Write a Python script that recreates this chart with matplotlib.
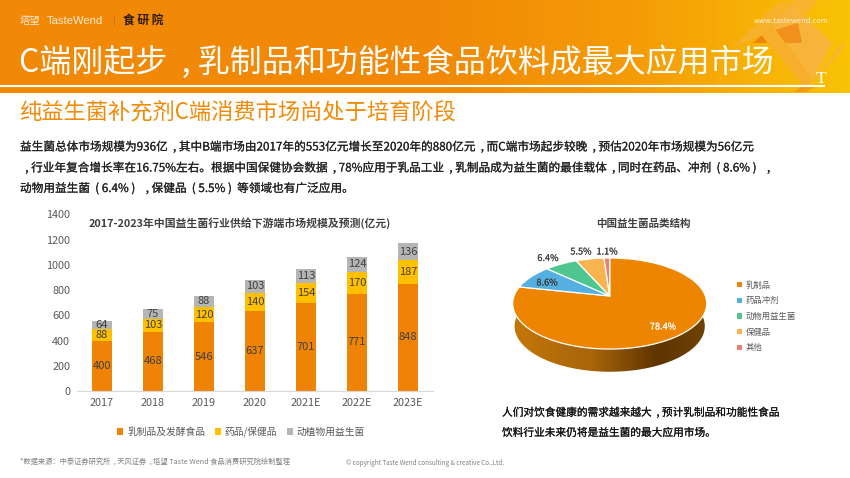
import numpy as np
import matplotlib
matplotlib.use("Agg")
import matplotlib.pyplot as plt
import matplotlib.patheffects as pe
from matplotlib.colors import LinearSegmentedColormap
from matplotlib.patches import Patch, PathPatch, Polygon
from matplotlib.path import Path

plt.rcParams['font.family'] = ['Noto Sans CJK SC', 'DejaVu Sans']

# bar chart data
years = ['2017', '2018', '2019', '2020', '2021E', '2022E', '2023E']
dairy = [400, 468, 546, 637, 701, 771, 848]
pharma = [88, 103, 120, 140, 154, 170, 187]
animal = [64, 75, 88, 103, 113, 124, 136]
bar_names = ['乳制品及发酵食品', '药品/保健品', '动植物用益生菌']
bar_colors = ['#EF8305', '#FFC000', '#B5B5B5']

# pie data
pie_names = ['乳制品', '药品冲剂', '动物用益生菌', '保健品', '其他']
pie_values = [78.4, 8.6, 6.4, 5.5, 1.1]
pie_colors = ['#EE8500', '#55B0E2', '#4FC690', '#F9B450', '#EE7F70']
pie_label_pos = [(663, 327), (547, 283), (548, 258.5), (581, 252), (607, 252)]
pie_label_colors = ['white', '#404040', '#404040', '#404040', '#404040']

W, H = 850, 478


def px_axes(left, top, right, bottom, **kw):
    return fig.add_axes([left / W, 1 - bottom / H, (right - left) / W, (bottom - top) / H], **kw)


def thick(col, lw=0.12):
    return [pe.withStroke(linewidth=lw, foreground=col)]


# reference sets full width punctuation centred in its cell
def centre_punct(s):
    return s.replace('，', '  , ').replace('（', '  ( ').replace('）', ' )  ')


fig = plt.figure(figsize=(8.5, 4.78), dpi=100, facecolor='white')

# full page layer in pixel coordinates
bg = px_axes(0, 0, W, H)
bg.axis('off')
header_cmap = LinearSegmentedColormap.from_list(
    'header', [(0, '#F18806'), (0.5, '#F18806'), (0.75, '#F59C07'), (1, '#F9C305')])
bg.imshow(np.linspace(0, 1, 256).reshape(1, -1), cmap=header_cmap, aspect='auto',
          extent=(0, W, 92.5, 0), zorder=0)

# box shape in the header corner
box_parts = [
    ([(733, 47), (775, 5), (792, 0), (772, 25), (762, 35)], '#F8B23A', 0.75),
    ([(792, 0), (818, 0), (806, 15), (795, 6)], '#F8B23A', 0.75),
    ([(772, 25), (792, 3), (832, 43), (813, 80)], '#F8B33F', 0.95),
    ([(775, 30), (798, 23), (802, 43), (785, 43)], '#EF8612', 0.75),
    ([(762, 35), (767, 43), (753, 43)], '#EE7A0A', 0.8),
    ([(762, 35), (772, 25), (813, 80), (805, 88)], '#F9AE30', 0.95),
    ([(813, 80), (842, 43), (844, 47), (808, 89)], '#F8B23A', 0.85),
    ([(793, 92), (805, 85), (815, 87), (806, 92)], '#EE8C0F', 0.7),
]
for pts, col, alpha in box_parts:
    bg.add_patch(Polygon(pts, closed=True, fc=col, ec='none', alpha=alpha, zorder=1))

bg.plot([0, 825], [86.2, 86.2], color='white', lw=1.5, zorder=2, solid_capstyle='butt')
bg.text(821.5, 78.5, 'T', color='white', fontsize=12.5, family='Liberation Serif',
        ha='center', va='center', zorder=3)

bg.text(20, 20.5, '塔望', color='#FDEBD3', fontsize=7.4, va='center', zorder=3)
bg.text(47, 20.5, 'TasteWend', color='#FDEBD3', fontsize=8.1, family='Liberation Sans', va='center', zorder=3)
bg.plot([114, 114], [16, 25], color='#C87A20', lw=0.7, zorder=3)
bg.text(123, 20.5, '食 研 院', color='#2A1A08', fontsize=8.5, weight='bold', va='center', zorder=3)
bg.text(829, 20.5, 'www.tastewend.com', color='#FFF2D8', fontsize=5.4, ha='right', va='center', zorder=3)

bg.text(19, 62, centre_punct('C端刚起步，乳制品和功能性食品饮料成最大应用市场'), color='white', fontsize=23,
        va='center', zorder=3)
bg.text(19, 112, '纯益生菌补充剂C端消费市场尚处于培育阶段', color='#F18A06', fontsize=16,
        va='center')

body_lines = [
    '益生菌总体市场规模为936亿，其中B端市场由2017年的553亿元增长至2020年的880亿元，而C端市场起步较晚，预估2020年市场规模为56亿元',
    '，行业年复合增长率在16.75%左右。根据中国保健协会数据，78%应用于乳品工业，乳制品成为益生菌的最佳载体，同时在药品、冲剂（8.6%），',
    '动物用益生菌（6.4%），保健品（5.5%）等领域也有广泛应用。',
]
for y, line in zip([147, 168, 188.5], body_lines):
    bg.text(20, y, centre_punct(line), color='#222222', fontsize=8.4, va='center',
            path_effects=thick('#222222'))

bg.text(240, 223, '2017-2023年中国益生菌行业供给下游端市场规模及预测(亿元)', color='#404040',
        fontsize=7.8, weight='bold', ha='center', va='center')
bg.text(643, 223.5, '中国益生菌品类结构', color='#404040', fontsize=7.6, weight='bold',
        ha='center', va='center')

bg.text(502, 412, centre_punct('人们对饮食健康的需求越来越大，预计乳制品和功能性食品'), color='#111111', fontsize=7.7,
        va='center', path_effects=thick('#111111'))
bg.text(502, 432.5, '饮料行业未来仍将是益生菌的最大应用市场。', color='#111111', fontsize=7.7,
        va='center', path_effects=thick('#111111'))

bg.text(20, 462, centre_punct('*数据来源：中泰证券研究所，天风证券，塔望 Taste Wend 食品消费研究院绘制整理'), color='#808080',
        fontsize=5.2, va='center')
bg.text(346, 463, '© copyright Taste Wend consulting & creative Co.,Ltd.', color='#808080',
        fontsize=4.5, va='center')
bg.set_xlim(0, W)
bg.set_ylim(H, 0)

# stacked bars
ax = px_axes(77, 214.3, 433, 391)
ax.patch.set_alpha(0)
x = np.arange(len(years))
bottom = np.zeros(len(years))
for vals, name, col in zip([dairy, pharma, animal], bar_names, bar_colors):
    bars = ax.bar(x, vals, width=0.39, bottom=bottom, color=col, label=name)
    ax.bar_label(bars, label_type='center', color='#404040', fontsize=8)
    bottom += np.array(vals)
ax.set_xlim(-0.49, 6.49)
ax.set_ylim(0, 1400)
ax.set_xticks(x, years)
ax.set_yticks(range(0, 1401, 200))
ax.tick_params(length=0, labelsize=7.8, labelcolor='#595959', pad=5)
for side in ['top', 'right', 'left']:
    ax.spines[side].set_visible(False)
ax.spines['bottom'].set_color('#D9D9D9')
ax.legend(frameon=False, ncol=3, loc='center', bbox_to_anchor=(241, 432), bbox_transform=bg.transData,
          fontsize=7, labelcolor='#595959', handlelength=0.6, handleheight=0.6, handletextpad=0.4,
          columnspacing=1.0, borderpad=0)

# pie, squashed into perspective on the page
pax = px_axes(495, 240, 725, 385)
pax.axis('off')
cx, cy, rx, ry, k = 609.7, 296.0, 95.7, 44.3, 0.165
depth = 22.7


def project(xs, ys):
    w = 1 + k * ys
    return cx + rx * xs / w, cy - ry * ys / w


wedges, _ = pax.pie(pie_values, colors=pie_colors, startangle=90, counterclock=False)

theta = np.linspace(np.pi * 0.98, np.pi * 2.02, 200)
rim_x, rim_y = project(np.cos(theta), np.sin(theta))
low_x = cx + (rim_x - cx) * 0.98
wall = np.vstack([np.column_stack([rim_x, rim_y]),
                  np.column_stack([low_x[::-1], rim_y[::-1] + depth])])
wall_patch = Polygon(wall, closed=True, fc='none', ec='none', zorder=1)
pax.add_patch(wall_patch)
wall_cmap = LinearSegmentedColormap.from_list(
    'wall', [(0, '#C47608'), (0.4, '#A8650A'), (0.75, '#5E3400'), (1, '#704204')])
wall_img = pax.imshow(np.linspace(0, 1, 256).reshape(1, -1), cmap=wall_cmap, aspect='auto',
                      extent=(514, 706, 375, 300), zorder=1)
wall_img.set_clip_path(wall_patch)

for w, col in zip(wedges, pie_colors):
    path = w.get_path()
    wx, wy = project(path.vertices[:, 0], path.vertices[:, 1])
    pax.add_patch(PathPatch(Path(np.column_stack([wx, wy]), path.codes), fc=col, ec='white',
                            lw=0.9, zorder=2, joinstyle='round'))
    w.remove()

for val, (lx, ly), col in zip(pie_values, pie_label_pos, pie_label_colors):
    pax.text(lx, ly, f'{val}%', color=col, fontsize=6.6, ha='center', va='center', zorder=3,
             path_effects=thick(col, 0.1))
pax.set_xlim(495, 725)
pax.set_ylim(385, 240)
pax.set_aspect('auto')

handles = [Patch(fc=c, ec='none') for c in pie_colors]
bg.legend(handles, pie_names, frameon=False, loc='upper left', bbox_to_anchor=(737.5, 280.5),
          bbox_transform=bg.transData, fontsize=6, labelcolor='#595959', handlelength=0.6,
          handleheight=0.6, handletextpad=0.4, labelspacing=0.8, borderpad=0, borderaxespad=0)

fig.savefig('out.png', dpi=100)
